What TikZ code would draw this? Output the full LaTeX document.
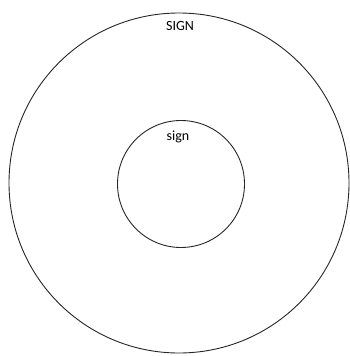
\documentclass[tikz,border=0pt]{standalone}
\usepackage{fontspec}
\setmainfont{Carlito}
\begin{document}
\begin{tikzpicture}[x=1pt,y=-1pt,
  ring/.style={draw=black!85,line width=0.9pt},
  lbl/.style={font=\fontsize{14}{16}\selectfont,inner sep=0pt}]
\useasboundingbox (0,0) rectangle (350,356);
\draw[ring] (179,183) circle (170);
\draw[ring] (181,184) circle (63.5);
\node[lbl] (outer) at (180,26) {SIGN};
\node[lbl] (inner) at (178,137) {sign};
\end{tikzpicture}
\end{document}
